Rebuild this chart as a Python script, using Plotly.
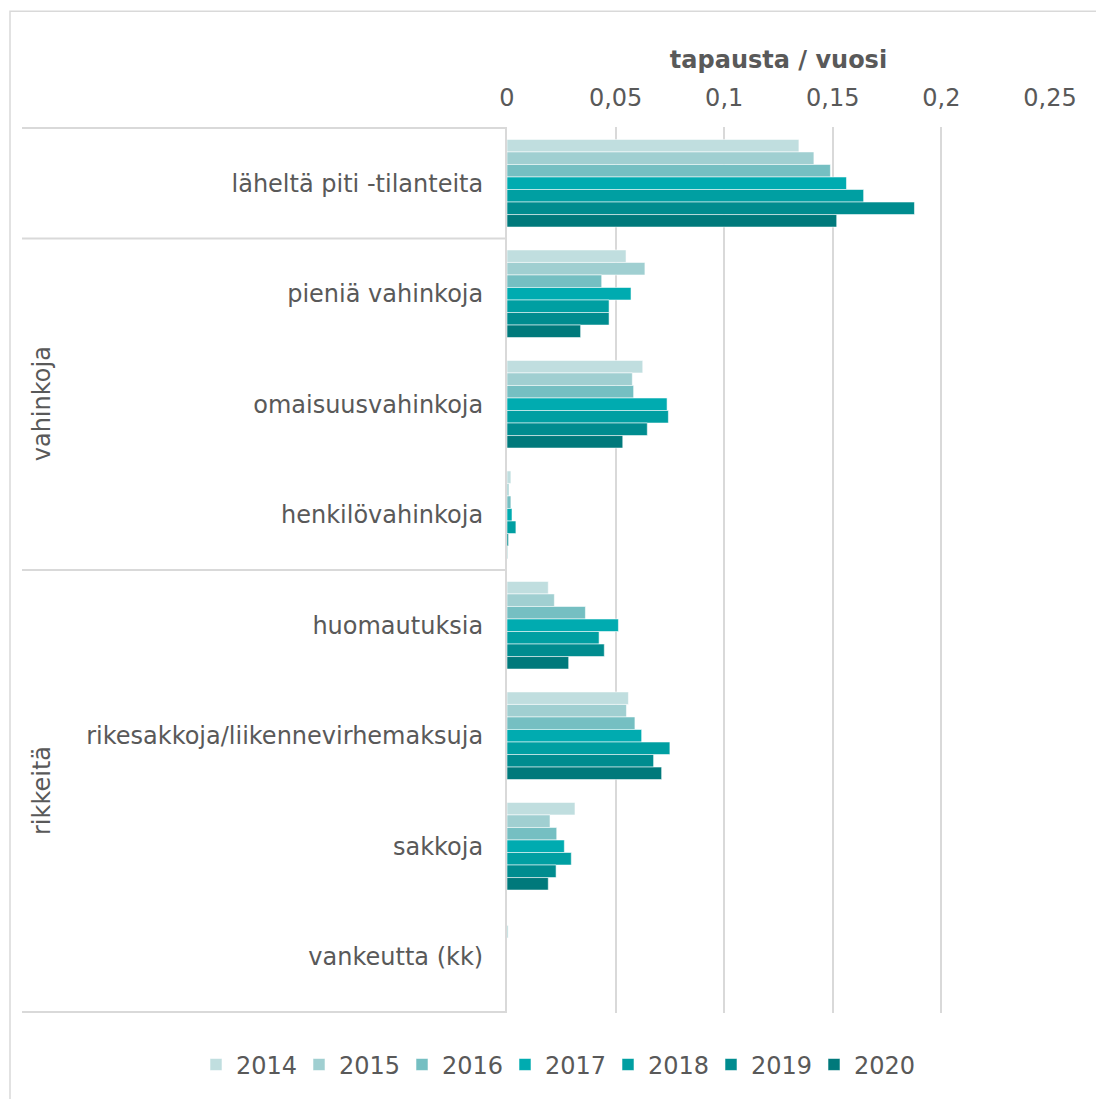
import plotly.graph_objects as go

# Incident categories (top to bottom) and their outer groups
categories = [
    "läheltä piti -tilanteita",
    "pieniä vahinkoja",
    "omaisuusvahinkoja",
    "henkilövahinkoja",
    "huomautuksia",
    "rikesakkoja/liikennevirhemaksuja",
    "sakkoja",
    "vankeutta (kk)",
]
group_labels = ["vahinkoja", "rikkeitä"]

years = ["2014", "2015", "2016", "2017", "2018", "2019", "2020"]

# Cases per year, one list per year in category order
v2014 = [0.1344, 0.0548, 0.0625, 0.0018, 0.0190, 0.0559, 0.0313, 0.0]
v2015 = [0.1413, 0.0635, 0.0577, 0.0009, 0.0218, 0.0550, 0.0198, 0.0005]
v2016 = [0.1489, 0.0436, 0.0583, 0.0018, 0.0361, 0.0589, 0.0229, 0.0]
v2017 = [0.1563, 0.0571, 0.0737, 0.0023, 0.0513, 0.0620, 0.0264, 0.0]
v2018 = [0.1642, 0.0470, 0.0743, 0.0041, 0.0424, 0.0750, 0.0296, 0.0]
v2019 = [0.1876, 0.0470, 0.0646, 0.0007, 0.0448, 0.0675, 0.0226, 0.0]
v2020 = [0.1518, 0.0339, 0.0533, 0.0002, 0.0284, 0.0712, 0.0190, 0.0]
values = [v2014, v2015, v2016, v2017, v2018, v2019, v2020]

colors = ["#C0DEDF", "#A0CFD1", "#75BFC2", "#00ABB0", "#009FA2", "#008C8F", "#00797B"]

TEXT = "#595959"
GRID = "#D9D9D9"
FONT = "DejaVu Sans"

W, H = 1096, 1099
L, R, T, B = 507, 46, 127, 84
plot_w = W - L - R
plot_h = H - T - B


def px_to_paper_x(px):
    return (px - L) / plot_w


def px_to_paper_y(py):
    return (H - B - py) / plot_h


fig = go.Figure()
for year, vals, col in zip(years, values, colors):
    fig.add_trace(go.Bar(
        name=year,
        x=vals,
        y=categories,
        orientation="h",
        marker=dict(color=col, line=dict(color="rgba(255,255,255,0.55)", width=1)),
    ))

# Category separators and outer frame of the category axis
for yb in [-0.5, 0.5, 3.5, 7.5]:
    fig.add_shape(type="line", xref="paper", yref="y",
                  x0=px_to_paper_x(22), x1=0, y0=yb, y1=yb,
                  line=dict(color=GRID, width=2))

# Chart area border
fig.add_shape(type="rect", xref="paper", yref="paper",
              x0=px_to_paper_x(10), x1=1.2,
              y0=-0.3, y1=px_to_paper_y(11),
              line=dict(color=GRID, width=1.5), fillcolor="rgba(0,0,0,0)", layer="below")

# Outer group labels
for label, ymid in zip(group_labels, [2, 5.5]):
    fig.add_annotation(text=label, xref="paper", yref="y",
                       x=px_to_paper_x(42), xanchor="center", y=ymid,
                       textangle=-90, showarrow=False,
                       font=dict(family=FONT, size=24, color=TEXT))

fig.update_layout(
    width=W, height=H,
    margin=dict(l=L, r=R, t=T, b=B),
    paper_bgcolor="white", plot_bgcolor="white",
    separators=", ",
    barmode="group", bargap=0.207, bargroupgap=0,
    font=dict(family=FONT, size=24, color=TEXT),
    xaxis=dict(
        side="top", range=[0, 0.25], dtick=0.05, tick0=0,
        showgrid=True, gridcolor=GRID, gridwidth=2,
        zeroline=False, showline=False, ticks="",
        ticklabelstandoff=15,
        tickfont=dict(family=FONT, size=24, color=TEXT),
        title=dict(text="<b>tapausta / vuosi</b>", standoff=8,
                   font=dict(family=FONT, size=24, color=TEXT)),
        fixedrange=True,
    ),
    yaxis=dict(
        categoryorder="array", categoryarray=categories,
        autorange="reversed",
        showline=True, linecolor=GRID, linewidth=2,
        showgrid=False, ticks="",
        ticklabelstandoff=17,
        tickfont=dict(family=FONT, size=24, color=TEXT),
        fixedrange=True,
    ),
    legend=dict(
        orientation="h", traceorder="normal",
        xref="paper", yref="paper",
        x=px_to_paper_x(196), xanchor="left",
        y=px_to_paper_y(1067), yanchor="middle",
        entrywidth=58, entrywidthmode="pixels",
        bgcolor="rgba(0,0,0,0)",
        font=dict(family=FONT, size=24, color=TEXT),
    ),
    showlegend=True,
)

fig.write_html("out.html")
